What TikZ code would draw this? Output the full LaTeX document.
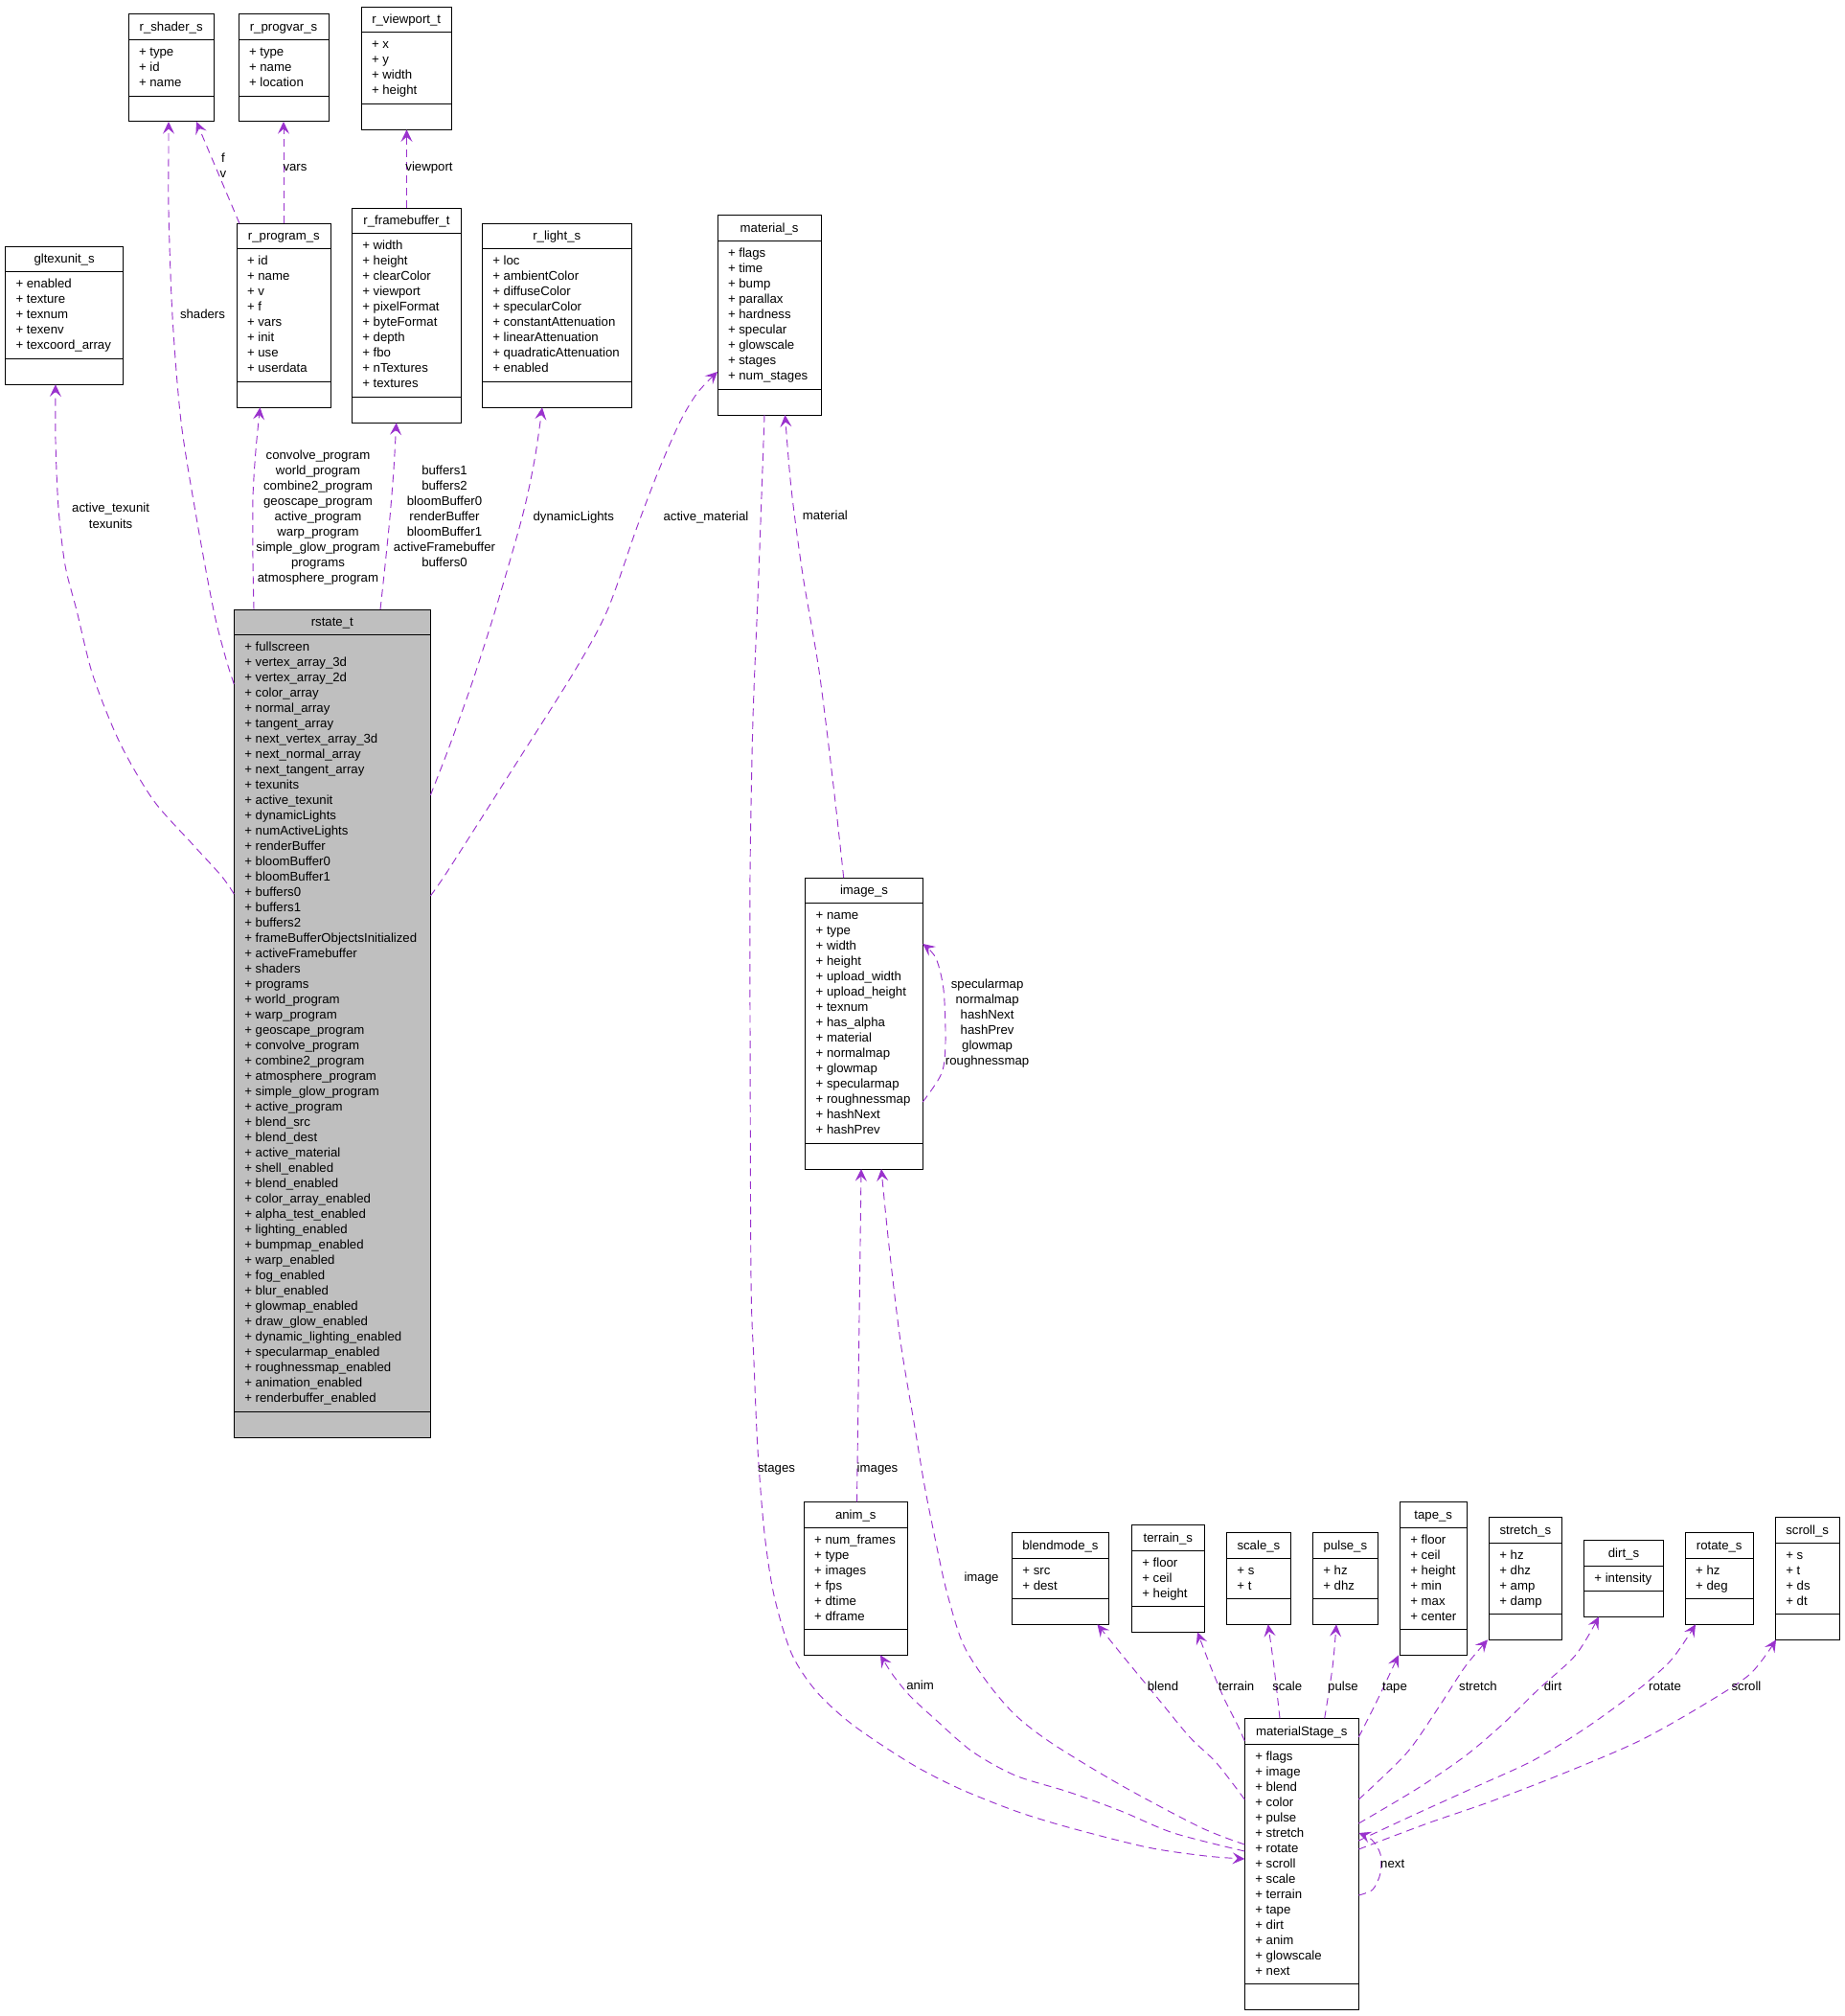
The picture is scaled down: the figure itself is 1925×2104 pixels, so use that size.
\documentclass[tikz,border=0pt]{standalone}
\usepackage{fontspec}
\setmainfont{Liberation Sans}
\usetikzlibrary{arrows.meta,fit}
\definecolor{edgecol}{HTML}{9A32CD}
\definecolor{boxgray}{HTML}{BFBFBF}
\tikzset{
  ubox/.style={draw=black, line width=0.75pt, inner sep=0pt, outer sep=0pt},
  boxline/.style={draw=black, line width=0.75pt},
  txt/.style={font=\fontsize{9.9}{12}\selectfont, inner sep=0pt, outer sep=0pt, text=black},
  lbl/.style={txt, anchor=base},
  dep/.style={draw=edgecol, line width=0.7pt, dash pattern=on 6pt off 4pt,
    -{Stealth[length=9.5pt,width=9pt,inset=3.8pt]}},
}
% #1 name, #2 left, #3 right, #4 top, #5 number of attributes, #6 fill, #7 title, #8 attributes
\newcommand\umlbox[8]{%
  \pgfmathsetmacro\bxbot{#4+64+16*#5}%
  \pgfmathsetmacro\bxsepa{#4+26.7}%
  \pgfmathsetmacro\bxsepb{#4+37.4+16*#5}%
  \pgfmathsetmacro\bxmid{(#2+#3)/2}%
  \pgfmathsetmacro\bxtb{#4+17.7}%
  \node[ubox, fill=#6, fit={(#2,#4) (#3,\bxbot)}] (#1) {};
  \draw[boxline] (#2,\bxsepa) -- (#3,\bxsepa);
  \draw[boxline] (#2,\bxsepb) -- (#3,\bxsepb);
  \node[txt, anchor=base] (#1-t) at (\bxmid,\bxtb) {#7};
  \foreach \bxattr [count=\i] in {#8} {
    \pgfmathsetmacro\bxy{#4+43.7+16*(\i-1)}
    \node[txt, anchor=base west] (#1-a\i) at (#2+11,\bxy) {+ \bxattr};
  }
}
\begin{document}
\begin{tikzpicture}[x=0.75pt,y=-0.75pt]
\useasboundingbox (0,0) rectangle (1925,2104);
\fill[white] (0,0) rectangle (1925,2104);

% ---------- boxes ----------
\umlbox{rshader}{134}{223.3}{15}{3}{white}{r\_shader\_s}{type,id,name}
\umlbox{rprogvar}{249}{343}{15}{3}{white}{r\_progvar\_s}{type,name,location}
\umlbox{rviewport}{377}{471.4}{7.3}{4}{white}{r\_viewport\_t}{x,y,width,height}
\umlbox{gltex}{5.5}{128.7}{257.3}{5}{white}{gltexunit\_s}{enabled,texture,texnum,texenv,texcoord\_array}
\umlbox{rprogram}{247}{345.7}{233.3}{8}{white}{r\_program\_s}{id,name,v,f,vars,init,use,userdata}
\umlbox{rfb}{367.3}{481.6}{217.3}{10}{white}{r\_framebuffer\_t}{width,height,clearColor,viewport,pixelFormat,byteFormat,depth,fbo,nTextures,textures}
\umlbox{rlight}{503.3}{659.2}{233.3}{8}{white}{r\_light\_s}{loc,ambientColor,diffuseColor,specularColor,constantAttenuation,linearAttenuation,quadraticAttenuation,enabled}
\umlbox{material}{749}{857.3}{225}{9}{white}{material\_s}{flags,time,bump,parallax,hardness,specular,glowscale,stages,num\_stages}
\umlbox{rstate}{244.3}{449.3}{636}{50}{boxgray}{rstate\_t}{fullscreen,vertex\_array\_3d,vertex\_array\_2d,color\_array,normal\_array,tangent\_array,
next\_vertex\_array\_3d,next\_normal\_array,next\_tangent\_array,texunits,active\_texunit,dynamicLights,numActiveLights,
renderBuffer,bloomBuffer0,bloomBuffer1,buffers0,buffers1,buffers2,frameBufferObjectsInitialized,activeFramebuffer,
shaders,programs,world\_program,warp\_program,geoscape\_program,convolve\_program,combine2\_program,atmosphere\_program,
simple\_glow\_program,active\_program,blend\_src,blend\_dest,active\_material,shell\_enabled,blend\_enabled,
color\_array\_enabled,alpha\_test\_enabled,lighting\_enabled,bumpmap\_enabled,warp\_enabled,fog\_enabled,blur\_enabled,
glowmap\_enabled,draw\_glow\_enabled,dynamic\_lighting\_enabled,specularmap\_enabled,roughnessmap\_enabled,
animation\_enabled,renderbuffer\_enabled}
\umlbox{image}{840.7}{963.3}{916}{15}{white}{image\_s}{name,type,width,height,upload\_width,upload\_height,texnum,has\_alpha,material,normalmap,glowmap,specularmap,roughnessmap,hashNext,hashPrev}
\umlbox{anim}{839.2}{947.4}{1567.3}{6}{white}{anim\_s}{num\_frames,type,images,fps,dtime,dframe}
\umlbox{blendmode}{1056.4}{1157.5}{1599.3}{2}{white}{blendmode\_s}{src,dest}
\umlbox{terrain}{1181.3}{1257.3}{1591.3}{3}{white}{terrain\_s}{floor,ceil,height}
\umlbox{scale}{1280.4}{1347.4}{1599.3}{2}{white}{scale\_s}{s,t}
\umlbox{pulse}{1370.3}{1438.5}{1599.3}{2}{white}{pulse\_s}{hz,dhz}
\umlbox{tape}{1461.3}{1531.2}{1567.3}{6}{white}{tape\_s}{floor,ceil,height,min,max,center}
\umlbox{stretch}{1554.3}{1630.3}{1583.3}{4}{white}{stretch\_s}{hz,dhz,amp,damp}
\umlbox{dirt}{1653.4}{1736.5}{1607.3}{1}{white}{dirt\_s}{intensity}
\umlbox{rotate}{1759.2}{1830.2}{1599.3}{2}{white}{rotate\_s}{hz,deg}
\umlbox{scroll}{1853.3}{1920}{1583.3}{4}{white}{scroll\_s}{s,t,ds,dt}
\umlbox{mstage}{1299.3}{1418.3}{1793.3}{15}{white}{materialStage\_s}{flags,image,blend,color,pulse,stretch,rotate,scroll,scale,terrain,tape,dirt,anim,glowscale,next}

% ---------- connector end points ----------
\coordinate (sh-t) at (rstate.west |- 0,714);
\coordinate (sh-h) at (176,0 |- rshader.south);
\coordinate (fv-t) at (250,0 |- rprogram.north);
\coordinate (fv-h) at (205,0 |- rshader.south);
\coordinate (va-t) at (296,0 |- rprogram.north);
\coordinate (va-h) at (296,0 |- rprogvar.south);
\coordinate (vp-t) at (424.5,0 |- rfb.north);
\coordinate (vp-h) at (424.5,0 |- rviewport.south);
\coordinate (tx-t) at (rstate.west |- 0,933);
\coordinate (tx-h) at (58,0 |- gltex.south);
\coordinate (pg-t) at (265,0 |- rstate.north);
\coordinate (pg-h) at (271.5,0 |- rprogram.south);
\coordinate (fb-t) at (397,0 |- rstate.north);
\coordinate (fb-h) at (413.7,0 |- rfb.south);
\coordinate (dl-t) at (rstate.east |- 0,830);
\coordinate (dl-h) at (566,0 |- rlight.south);
\coordinate (am-t) at (rstate.east |- 0,935);
\coordinate (am-h) at (material.west |- 0,388);
\coordinate (mt-t) at (880.7,0 |- image.north);
\coordinate (mt-h) at (819.5,0 |- material.south);
\coordinate (st-t) at (798,0 |- material.south);
\coordinate (st-h) at (mstage.west |- 0,1940);
\coordinate (im-t) at (894.5,0 |- anim.north);
\coordinate (im-h) at (899,0 |- image.south);
\coordinate (ig-t) at (mstage.west |- 0,1925);
\coordinate (ig-h) at (920,0 |- image.south);
\coordinate (an-t) at (mstage.west |- 0,1932);
\coordinate (an-h) at (919,0 |- anim.south);
\coordinate (bl-t) at (mstage.west |- 0,1878);
\coordinate (bl-h) at (1145.5,0 |- blendmode.south);
\coordinate (te-t) at (mstage.west |- 0,1817);
\coordinate (te-h) at (1250,0 |- terrain.south);
\coordinate (sc-t) at (1336,0 |- mstage.north);
\coordinate (sc-h) at (1323.7,0 |- scale.south);
\coordinate (pu-t) at (1382.7,0 |- mstage.north);
\coordinate (pu-h) at (1395,0 |- pulse.south);
\coordinate (ta-t) at (mstage.east |- 0,1813);
\coordinate (ta-h) at (1460,0 |- tape.south);
\coordinate (sr-t) at (mstage.east |- 0,1878);
\coordinate (sr-h) at (1553,0 |- stretch.south);
\coordinate (di-t) at (mstage.east |- 0,1903);
\coordinate (di-h) at (1669,0 |- dirt.south);
\coordinate (ro-t) at (mstage.east |- 0,1921);
\coordinate (ro-h) at (1770,0 |- rotate.south);
\coordinate (sl-t) at (mstage.east |- 0,1930);
\coordinate (sl-h) at (1854,0 |- scroll.south);
\coordinate (nx-t) at (mstage.east |- 0,1978);
\coordinate (nx-h) at (mstage.east |- 0,1913);
\coordinate (il-t) at (image.east |- 0,1150);
\coordinate (il-h) at (image.east |- 0,985);

% ---------- connectors ----------
\draw[dep] plot[smooth] coordinates {(sh-t) (236,688) (223,637) (205,540) (189,440) (180,330) (176,220) (176,160) (sh-h)};
\draw[dep] (fv-t) -- (fv-h);
\draw[dep] (va-t) -- (va-h);
\draw[dep] (vp-t) -- (vp-h);
\draw[dep] plot[smooth] coordinates {(tx-t) (231,914) (200,880) (160,835) (125,775) (97,705) (80,637) (68,590) (61,530) (58,460) (tx-h)};
\draw[dep] plot[smooth] coordinates {(pg-t) (264,585) (264,520) (267,470) (pg-h)};
\draw[dep] plot[smooth] coordinates {(fb-t) (402,590) (407,540) (411,490) (fb-h)};
\draw[dep] plot[smooth] coordinates {(dl-t) (468,782) (492,715) (517,637) (545,540) (558,480) (dl-h)};
\draw[dep] plot[smooth] coordinates {(am-t) (468,908) (540,795) (600,700) (634,637) (665,550) (688,490) (710,440) (728,410) (am-h)};
\draw[dep] plot[smooth] coordinates {(mt-t) (870,820) (855,700) (838,600) (826,510) (mt-h)};
\draw[dep] plot[smooth] coordinates {(st-t) (792,600) (786,750) (783,911) (783,1067) (784,1336) (787,1421) (791,1513) (798,1600) (808,1665) (826,1725) (852,1765) (890,1800) (950,1840) (1000,1866) (1060,1890) (1115,1907) (1198,1928) (1259,1937) (st-h)};
\draw[dep] (im-t) -- (im-h);
\draw[dep] plot[smooth] coordinates {(ig-t) (1253,1907) (1170,1863) (1099,1820) (1060,1790) (1030,1755) (1005,1715) (988,1660) (977,1610) (965,1550) (955,1490) (940,1400) (928,1300) (ig-h)};
\draw[dep] plot[smooth] coordinates {(an-t) (1225,1913) (1170,1890) (1115,1870) (1060,1853) (1015,1828) (977,1795) (950,1770) (932,1748) (an-h)};
\draw[dep] plot[smooth] coordinates {(bl-t) (1270,1840) (1242,1813) (1209,1773) (1176,1733) (bl-h)};
\draw[dep] plot[smooth] coordinates {(te-t) (1291.7,1800) (1278,1773) (1264,1740) (te-h)};
\draw[dep] plot[smooth] coordinates {(sc-t) (1330,1740) (sc-h)};
\draw[dep] plot[smooth] coordinates {(pu-t) (1391,1740) (pu-h)};
\draw[dep] plot[smooth] coordinates {(ta-t) (1435,1780) (1446,1757) (ta-h)};
\draw[dep] plot[smooth] coordinates {(sr-t) (1468,1830) (1501,1783) (1529,1740) (sr-h)};
\draw[dep] plot[smooth] coordinates {(di-t) (1479,1867) (1529,1833) (1568,1800) (1606,1763) (1645,1727) (di-h)};
\draw[dep] plot[smooth] coordinates {(ro-t) (1474,1895) (1540,1865) (1601,1837) (1656,1803) (1705.5,1767) (1744,1733) (ro-h)};
\draw[dep] plot[smooth] coordinates {(sl-t) (1490,1903) (1556.5,1880) (1634,1850) (1711,1817) (1777,1780) (1827,1747) (sl-h)};
\draw[dep] plot[smooth] coordinates {(nx-t) (1433,1972) (1441,1955) (1441,1935) (1432,1920) (nx-h)};
\draw[dep] plot[smooth] coordinates {(il-t) (983,1120) (987,1087) (985,1033) (977,1000) (il-h)};

% ---------- connector labels ----------
\node[lbl] (l-shaders) at (211.5,333) {shaders};
\node[lbl] (l-f) at (233,170) {f};
\node[lbl] (l-v) at (233,186) {v};
\node[lbl] (l-vars) at (308,178.4) {vars};
\node[lbl] (l-viewport) at (448,178.4) {viewport};
\node[lbl] (l-tex1) at (115.6,534.7) {active\_texunit};
\node[lbl] (l-tex2) at (115.6,551) {texunits};
\foreach \t [count=\i] in {convolve\_program,world\_program,combine2\_program,geoscape\_program,active\_program,warp\_program,simple\_glow\_program,programs,atmosphere\_program}
  {\node[lbl] (l-prog\i) at (332,{479+16*(\i-1)}) {\t};}
\foreach \t [count=\i] in {buffers1,buffers2,bloomBuffer0,renderBuffer,bloomBuffer1,activeFramebuffer,buffers0}
  {\node[lbl] (l-fb\i) at (464,{495+16*(\i-1)}) {\t};}
\node[lbl] (l-dl) at (598.8,543) {dynamicLights};
\node[lbl] (l-am) at (737,543) {active\_material};
\node[lbl] (l-mat) at (861.3,542) {material};
\foreach \t [count=\i] in {specularmap,normalmap,hashNext,hashPrev,glowmap,roughnessmap}
  {\node[lbl] (l-img\i) at (1030.6,{1031+16*(\i-1)}) {\t};}
\node[lbl] (l-stages) at (810.5,1536) {stages};
\node[lbl] (l-images) at (916,1536) {images};
\node[lbl] (l-image) at (1024.5,1650.7) {image};
\node[lbl] (l-anim) at (960.6,1763.3) {anim};
\node[lbl] (l-blend) at (1214,1764) {blend};
\node[lbl] (l-terrain) at (1290.6,1764) {terrain};
\node[lbl] (l-scale) at (1343.7,1764) {scale};
\node[lbl] (l-pulse) at (1402,1764) {pulse};
\node[lbl] (l-tape) at (1456,1764) {tape};
\node[lbl] (l-stretch) at (1543,1764) {stretch};
\node[lbl] (l-dirt) at (1621,1764) {dirt};
\node[lbl] (l-rotate) at (1738,1764) {rotate};
\node[lbl] (l-scroll) at (1823,1764) {scroll};
\node[lbl] (l-next) at (1453.7,1949) {next};
\end{tikzpicture}
\end{document}
